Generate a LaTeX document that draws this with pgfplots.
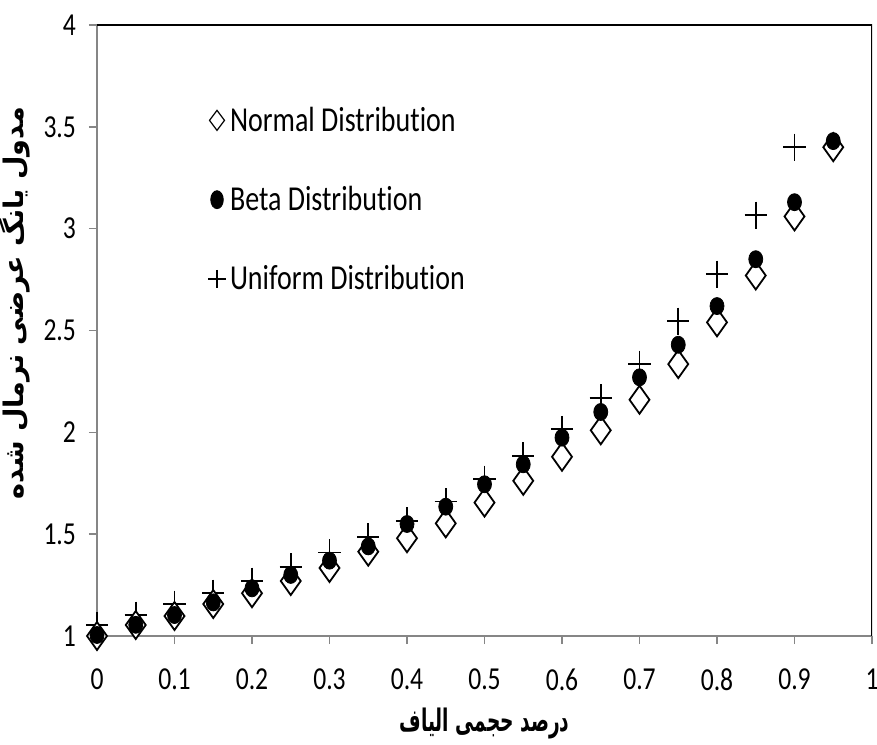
\documentclass[border=0pt]{standalone}
\usepackage{pgfplots}
\pgfplotsset{compat=1.18}
\usepackage{fontspec}
\setmainfont{Carlito}[FakeStretch=0.8, Ligatures=NoCommon]
\newfontfamily\arabicfont[Script=Arabic]{DejaVu Sans}
\newfontfamily\arabicx[Script=Arabic, FakeStretch=0.6]{DejaVu Sans}
\TeXXeTstate=1
\definecolor{axgray}{RGB}{134,134,134}

\begin{document}
\begin{tikzpicture}
\begin{axis}[
  scale only axis, width=387.5pt, height=305.5pt,
  xmin=0, xmax=1, ymin=1, ymax=4,
  xtick={0,0.1,0.2,0.3,0.4,0.5,0.6,0.7,0.8,0.9,1},
  ytick={1,1.5,2,2.5,3,3.5,4},
  axis x line*=bottom, axis y line*=left,
  axis line style={axgray, line width=1pt},
  tick align=outside, major tick length=4pt,
  tick style={axgray, line width=0.8pt},
  /pgf/number format/assume math mode=true,
  ticklabel style={font=\fontsize{16}{19}\selectfont},
  xticklabel style={yshift=-9pt},
  yticklabel style={xshift=-3pt},
  xlabel={\arabicx\bfseries\beginR درصد حجمی الیاف\endR},
  ylabel={\arabicfont\bfseries\beginR مدول یانگ عرضی نرمال شده\endR},
  xlabel style={font=\fontsize{15.5}{18}\selectfont, at={(axis description cs:0.5,-0.143)}, anchor=center},
  ylabel style={font=\fontsize{13.5}{16}\selectfont, at={(axis description cs:-0.106,0.545)}, anchor=center},
  legend style={at={(axis description cs:0.135,0.88)}, anchor=north west, draw=none, fill=none,
    font=\fontsize{17.5}{20}\selectfont, row sep=22pt},
  legend cell align=left,
  legend image code/.code={\draw[mark repeat=2, mark phase=2, #1] plot coordinates {(-7pt,0pt) (0pt,0pt) (7pt,0pt)};},
]
\addlegendimage{only marks, mark=diamond, black, mark size=5pt, mark options={line width=0.6pt}}
\addlegendentry{Normal Distribution}
\addlegendimage{only marks, mark=*, black, mark size=4.5pt, mark options={xscale=0.7}}
\addlegendentry{Beta Distribution}
\addlegendimage{only marks, mark=+, black, mark size=4.5pt, mark options={line width=0.6pt}}
\addlegendentry{Uniform Distribution}

% Uniform
\addplot[forget plot, only marks, black, mark=+, mark size=6.75pt, mark options={xscale=0.82, line width=0.9pt}]
coordinates {
(0,1.054) (0.05,1.103) (0.1,1.157) (0.15,1.21) (0.2,1.27) (0.25,1.34) (0.3,1.41)
(0.35,1.487) (0.4,1.565) (0.45,1.66) (0.5,1.77) (0.55,1.885) (0.6,2.015) (0.65,2.17)
(0.7,2.335) (0.75,2.546) (0.8,2.777) (0.85,3.067) (0.9,3.40)
};
% Normal
\addplot[forget plot, only marks, black, mark=diamond*, mark size=7pt, mark options={fill=white, xscale=0.95, line width=0.9pt}]
coordinates {
(0,1.00) (0.05,1.054) (0.1,1.098) (0.15,1.157) (0.2,1.21) (0.25,1.27) (0.3,1.334)
(0.35,1.414) (0.4,1.48) (0.45,1.553) (0.5,1.655) (0.55,1.762) (0.6,1.88) (0.65,2.01)
(0.7,2.16) (0.75,2.335) (0.8,2.54) (0.85,2.77) (0.9,3.06) (0.95,3.40)
};
% Beta
\addplot[forget plot, only marks, black, mark=*, mark size=4.25pt, mark options={xscale=0.82}]
coordinates {
(0,1.005) (0.05,1.055) (0.1,1.103) (0.15,1.165) (0.2,1.234) (0.25,1.30) (0.3,1.37)
(0.35,1.44) (0.4,1.55) (0.45,1.635) (0.5,1.745) (0.55,1.843) (0.6,1.974) (0.65,2.10)
(0.7,2.27) (0.75,2.43) (0.8,2.62) (0.85,2.85) (0.9,3.13) (0.95,3.43)
};
\draw[black, line width=0.8pt] (rel axis cs:0,1) -- (rel axis cs:1,1) -- (rel axis cs:1,0);
\end{axis}
\pgfresetboundingbox
\path (-48.5pt,-54pt) rectangle (390pt,318pt);
\end{tikzpicture}
\end{document}
